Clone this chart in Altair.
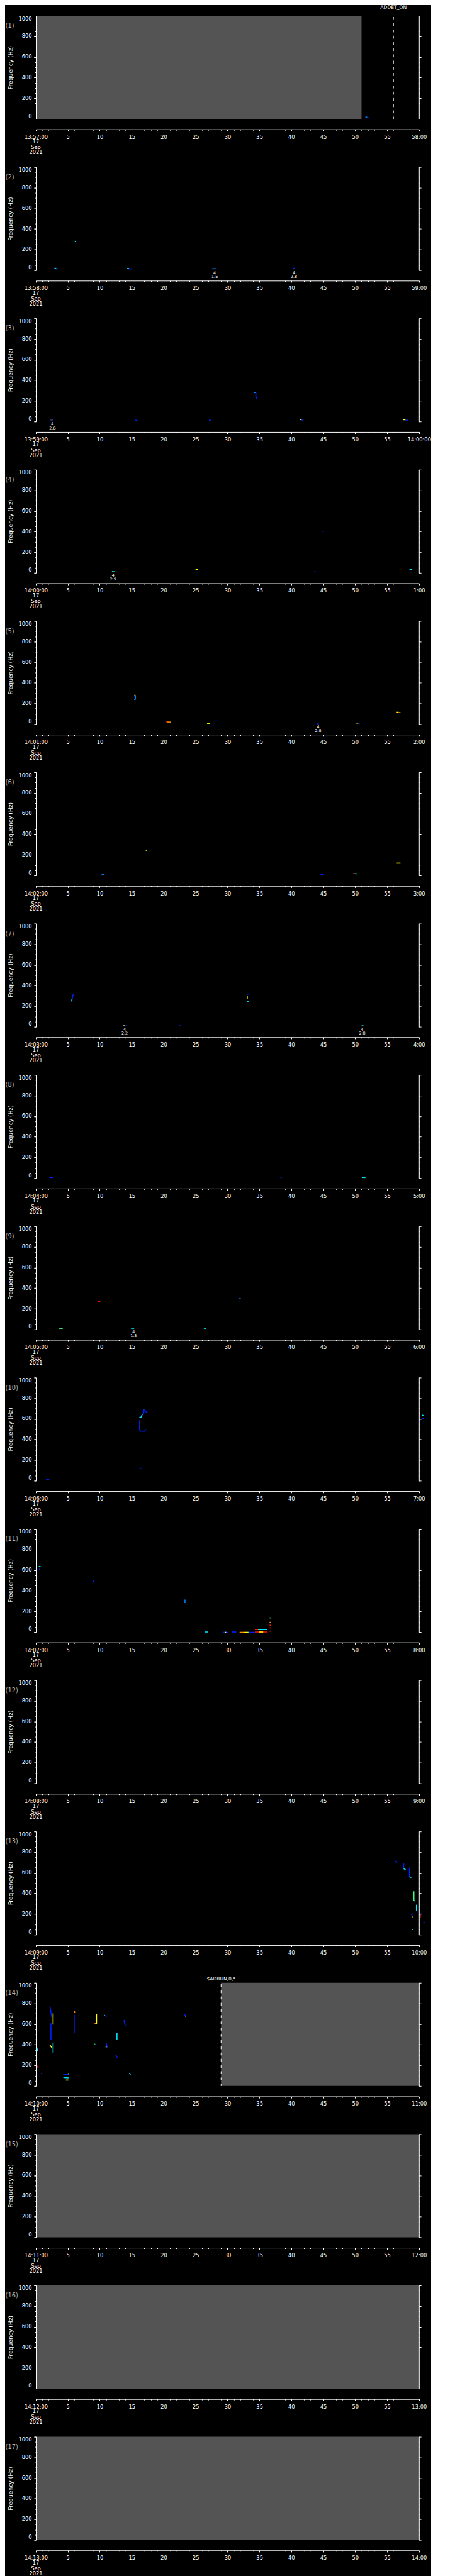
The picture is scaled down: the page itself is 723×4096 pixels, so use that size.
import altair as alt
import pandas as pd

# ---------------- layout constants (output pixels) ----------------
FONT = "DejaVu Sans"
W = 608.8          # plot width
H = 164.0          # plot height
PITCH = 240.6      # distance between panel tops
SPACING = PITCH - H
XAX_OFF = 16.7     # time axis offset below plot
GRAY = "#545454"

# ---------------- data ----------------
panel_ids = list(range(1, 18))
start_labels = ["13:57:00", "13:58:00", "13:59:00", "14:00:00", "14:01:00", "14:02:00",
                "14:03:00", "14:04:00", "14:05:00", "14:06:00", "14:07:00", "14:08:00",
                "14:09:00", "14:10:00", "14:11:00", "14:12:00", "14:13:00"]
end_labels = ["58:00", "59:00", "14:00:00", "1:00", "2:00", "3:00", "4:00", "5:00", "6:00",
              "7:00", "8:00", "9:00", "10:00", "11:00", "12:00", "13:00", "14:00"]
date_lines = ["17", "Sep", "2021"]

# no-data (grey) spans, seconds
gray_panel = [1, 14, 15, 16, 17]
gray_t0 = [0, 29.0, 0, 0, 0]
gray_t1 = [51.0, 60, 60, 60, 60]

# event markers
marker_panel = [1, 14]
marker_t = [56.0, 29.0]
marker_text = ["ADDET_ON", "$ADRUN,0,*"]
marker_text_dy = [-12.7, -5.6]

# detections annotated below the plot
ann_panel = [2, 2, 3, 4, 5, 7, 7, 9]
ann_t = [28.0, 40.4, 2.6, 12.1, 44.2, 13.9, 51.1, 15.3]
ann_top = ["4", "4", "4", "4", "4", "4", "4", "4"]
ann_bottom = ["1.5", "2.8", "2.6", "2.9", "2.8", "2.2", "2.8", "1.3"]

B, LB, C, G, Y, O, R, DG = "#0020ff", "#0080ff", "#00e8ff", "#40ff80", "#ffff00", "#ff9000", "#ff1000", "#303080"

# spectrogram traces: (t0, t1, f0, f1, colour)
spec = {
    1: [(51.6, 51.9, 17, 17, LB), (51.9, 52.1, 13, 13, B)],
    2: [(2.9, 3.2, 18, 18, C), (3.1, 3.4, 13, 13, B), (6.1, 6.3, 282, 275, C),
        (14.3, 14.6, 17, 17, C), (14.5, 15.0, 13, 13, B), (27.6, 28.2, 14, 14, LB),
        (40.3, 40.6, 18, 18, B)],
    3: [(2.2, 2.7, 14, 14, DG), (15.5, 15.9, 12, 10, B), (27.1, 27.4, 11, 11, B),
        (34.2, 34.45, 280, 280, LB), (34.45, 34.45, 280, 240, B), (34.5, 34.6, 240, 220, B),
        (41.4, 41.7, 18, 18, Y), (41.6, 41.9, 15, 15, B), (57.5, 57.9, 17, 17, Y),
        (57.9, 58.3, 13, 13, B)],
    4: [(11.9, 12.1, 11, 11, G), (12.1, 12.3, 11, 11, C), (25.0, 25.4, 35, 32, Y),
        (43.6, 43.8, 11, 11, B), (44.9, 45.1, 405, 400, B), (58.5, 58.9, 35, 32, C)],
    5: [(15.4, 15.6, 280, 280, O), (15.6, 15.6, 280, 240, LB), (15.4, 15.6, 240, 240, C),
        (20.3, 20.6, 26, 23, R), (20.6, 21.1, 20, 20, O), (26.8, 27.3, 8, 8, Y),
        (44.0, 44.3, 3, 3, B), (50.2, 50.5, 10, 10, Y), (50.5, 50.7, 8, 8, B),
        (56.5, 56.8, 115, 115, Y), (56.8, 57.1, 112, 112, O)],
    6: [(10.3, 10.7, 11, 9, LB), (17.2, 17.4, 244, 244, Y), (44.6, 45.1, 11, 9, B),
        (49.7, 49.9, 19, 19, R), (49.9, 50.3, 17, 15, C), (56.5, 57.1, 119, 119, Y)],
    7: [(5.6, 5.85, 246, 317, B), (5.6, 5.65, 246, 265, C), (13.6, 13.9, 9, 9, Y),
        (13.9, 14.3, 9, 9, B), (22.4, 22.7, 9, 9, B), (33.0, 33.3, 317, 317, B),
        (33.1, 33.1, 300, 270, Y), (33.1, 33.3, 248, 245, C), (51.0, 51.3, 9, 9, C)],
    8: [(2.1, 2.7, 6, 4, B), (38.3, 38.5, 6, 4, B), (51.1, 51.6, 6, 4, C)],
    9: [(3.6, 4.2, 12, 10, G), (9.7, 10.1, 272, 265, R), (14.9, 15.4, 11, 11, C),
        (26.3, 26.7, 12, 10, C), (31.8, 32.1, 297, 297, LB)],
    10: [(1.6, 2.1, 14, 14, B), (16.25, 16.25, 587, 480, B), (16.25, 17.1, 480, 480, B),
         (17.1, 17.1, 480, 494, B), (17.1, 17.3, 494, 494, B), (16.2, 16.5, 614, 614, C),
         (16.5, 16.5, 614, 630, C), (16.5, 16.9, 630, 651, LB), (16.9, 16.9, 651, 694, B),
         (16.9, 17.1, 694, 674, B), (17.1, 17.5, 674, 657, B), (16.2, 16.6, 120, 120, B),
         (60.5, 60.7, 637, 630, C), (60.5, 60.7, 605, 605, B)],
    11: [(0.45, 0.75, 637, 632, C), (0.5, 0.6, 609, 609, B), (8.9, 9.2, 500, 480, B),
         (23.2, 23.2, 269, 275, Y), (23.35, 23.35, 280, 314, LB), (26.5, 26.9, 0, 0, C),
         (29.3, 30.1, -3, -3, B), (29.6, 29.8, -3, -3, Y), (30.7, 31.4, 0, 0, B),
         (31.9, 32.6, -3, -3, O), (32.6, 33.3, -3, -3, Y), (33.3, 34.3, -3, -3, B),
         (34.3, 36.2, 0, 0, R), (34.9, 35.6, 0, 0, Y), (34.3, 36.2, 23, 23, R),
         (34.8, 36.2, 23, 23, C), (36.6, 36.8, 137, 137, G), (36.6, 36.8, 94, 94, O),
         (36.6, 36.8, 66, 66, R), (36.6, 36.8, 40, 40, R), (36.6, 36.8, 8, 8, R)],
    12: [],
    13: [(56.3, 56.6, 715, 700, B), (57.6, 57.6, 690, 640, B), (57.6, 57.9, 640, 630, C),
         (58.5, 58.5, 650, 560, B), (58.5, 58.8, 560, 555, C), (59.2, 59.2, 420, 330, G),
         (59.2, 59.4, 330, 325, C), (59.6, 59.6, 290, 230, C),
         (58.7, 59.0, 200, 193, B), (58.9, 59.0, 172, 172, Y), (59.0, 59.0, 53, 45, C),
         (60.0, 60.4, 200, 200, B), (60.2, 60.2, 200, 167, R), (60.7, 60.9, 122, 113, B)],
    14: [(0.1, 0.3, 380, 337, C), (0.1, 0.4, 200, 172, R), (0.8, 1.0, 122, 122, B),
         (2.2, 2.5, 770, 667, B), (2.36, 2.36, 607, 448, B), (2.2, 2.5, 395, 373, Y),
         (2.7, 2.7, 703, 595, Y), (2.7, 2.7, 416, 323, C), (4.3, 5.1, 115, 108, B),
         (5.0, 5.1, 122, 115, Y), (4.3, 5.1, 83, 79, C), (4.7, 5.1, 57, 57, Y),
         (4.8, 4.9, 172, 172, B), (6.0, 6.1, 725, 710, O), (6.0, 6.0, 689, 509, B),
         (9.2, 9.5, 610, 600, O), (9.5, 9.5, 699, 603, Y), (9.2, 9.3, 405, 405, G),
         (10.7, 11.1, 684, 674, B), (10.7, 10.8, 684, 684, G), (11.0, 11.2, 416, 373, B),
         (11.0, 11.0, 385, 373, Y), (12.5, 12.8, 301, 273, B), (12.7, 12.7, 517, 448, C),
         (13.8, 14.0, 638, 581, B), (14.6, 14.9, 122, 115, C), (23.3, 23.5, 693, 674, B),
         (23.4, 23.5, 680, 674, Y)],
    15: [], 16: [], 17: [],
}

# ---------------- helpers ----------------
def xs(field, axis=None):
    return alt.X(f"{field}:Q", scale=alt.Scale(domain=[0, 60], nice=False, zero=False), axis=axis)


def ys(field, axis=None):
    return alt.Y(f"{field}:Q", scale=alt.Scale(domain=[0, 1000], nice=False, zero=False), axis=axis)


common = dict(domainColor="white", tickColor="white", labelColor="white", domainWidth=1,
              tickWidth=1, grid=False, labelFont=FONT, labelFontSize=8.3, zindex=2)

y_left_major = alt.Axis(orient="left", values=list(range(0, 1001, 200)), tickSize=3.3,
                        labelPadding=3.7, labelFlush=True, format="d", title="Frequency (Hz)",
                        titleColor="white", titleFont=FONT, titleFontSize=9.2,
                        titleFontWeight="normal", titleX=-40.5, titleY=H / 2, titleAngle=270,
                        titleAlign="center", titleBaseline="middle", **common)
y_left_minor = alt.Axis(orient="left", values=list(range(0, 1001, 50)), tickSize=1.4,
                        labels=False, domain=False, title=None, **common)
y_right_major = alt.Axis(orient="right", values=list(range(0, 1001, 200)), tickSize=3.3,
                         labels=False, title=None, **common)
y_right_minor = alt.Axis(orient="right", values=list(range(0, 1001, 50)), tickSize=1.4,
                         labels=False, domain=False, title=None, **common)
x_minor = alt.Axis(orient="bottom", values=list(range(0, 61)), tickSize=1.4, labels=False,
                   domain=False, offset=XAX_OFF, title=None, **common)


def x_major(i):
    s, e = start_labels[i - 1], end_labels[i - 1]
    return alt.Axis(orient="bottom", values=list(range(0, 61, 5)), tickSize=2.6, offset=XAX_OFF,
                    labelPadding=9.8, labelBaseline="middle", labelAngle=0, labelOverlap=False,
                    labelFlush=False, title=None,
                    labelExpr=f"datum.value == 0 ? '{s}' : datum.value == 60 ? '{e}' : format(datum.value, 'd')",
                    **common)


dummy = pd.DataFrame({"t0": [0.0], "f0": [0.0]})
one = pd.DataFrame({"k": [0]})


def panel(i):
    d = alt.Chart(dummy)
    layers = []
    # grey no-data areas
    g = pd.DataFrame({"t0": [a for p, a in zip(gray_panel, gray_t0) if p == i],
                      "t1": [b for p, b in zip(gray_panel, gray_t1) if p == i]})
    if len(g):
        g["f0"], g["f1"] = 0, 1000
        layers.append(alt.Chart(g).mark_rect(color=GRAY).encode(
            x=xs("t0"), x2="t1", y=ys("f0"), y2="f1"))
    # axes carriers
    layers.append(d.mark_point(opacity=0).encode(x=xs("t0", x_major(i)), y=ys("f0", y_left_major)))
    layers.append(d.mark_point(opacity=0).encode(x=xs("t0", x_minor), y=ys("f0", y_left_minor)))
    layers.append(d.mark_point(opacity=0).encode(x=xs("t0"), y=ys("f0", y_right_major)))
    layers.append(d.mark_point(opacity=0).encode(x=xs("t0"), y=ys("f0", y_right_minor)))
    # spectrogram traces
    rows = spec.get(i, [])
    if rows:
        s = pd.DataFrame(rows, columns=["t0", "t1", "f0", "f1", "c"])
        layers.append(alt.Chart(s).mark_rule(strokeWidth=1.6, clip=False).encode(
            x=xs("t0"), x2="t1", y=ys("f0"), y2="f1", color=alt.Color("c:N", scale=None)))
    # event markers
    for p, t, txt, dy in zip(marker_panel, marker_t, marker_text, marker_text_dy):
        if p == i:
            m = pd.DataFrame({"t0": [t], "txt": [txt]})
            layers.append(alt.Chart(m).mark_rule(color="white", strokeWidth=1,
                                                 strokeDash=[4.5, 5.4]).encode(
                x=xs("t0"), y=alt.value(2.1), y2=alt.value(H)))
            layers.append(alt.Chart(m).mark_text(color="white", font=FONT, fontSize=7.6,
                                                 baseline="middle").encode(
                x=xs("t0"), y=alt.value(dy), text="txt:N"))
    # detection annotations
    a = pd.DataFrame({"t0": [t for p, t in zip(ann_panel, ann_t) if p == i],
                      "top": [t for p, t in zip(ann_panel, ann_top) if p == i],
                      "bot": [t for p, t in zip(ann_panel, ann_bottom) if p == i]})
    if len(a):
        layers.append(alt.Chart(a).mark_text(color="white", font=FONT, fontSize=6.4,
                                             baseline="middle").encode(
            x=xs("t0"), y=alt.value(H + 4.2), text="top:N"))
        layers.append(alt.Chart(a).mark_text(color="white", font=FONT, fontSize=6.4,
                                             baseline="middle").encode(
            x=xs("t0"), y=alt.value(H + 10.6), text="bot:N"))
    # date lines under the first tick label
    for txt, dy in zip(date_lines, [37.2, 46.3, 54.3]):
        layers.append(alt.Chart(one).mark_text(color="white", font=FONT, fontSize=8.3,
                                               baseline="middle", align="center").encode(
            x=alt.value(0), y=alt.value(H + dy), text=alt.value(txt)))
    # panel number
    layers.append(alt.Chart(one).mark_text(color="#b4b4b4", font=FONT, fontSize=9.9,
                                           baseline="middle", align="left").encode(
        x=alt.value(-48.4), y=alt.value(16.2), text=alt.value(f"({i})")))
    return alt.layer(*layers).resolve_scale(x="independent", y="independent").properties(
        width=W, height=H)


chart = alt.vconcat(*[panel(i) for i in panel_ids], spacing=SPACING, bounds="flush",
                    padding=0, background="black").configure_view(stroke=None, fill=None)

chart.save("out.html", embed_options={"renderer": "svg", "actions": False})
